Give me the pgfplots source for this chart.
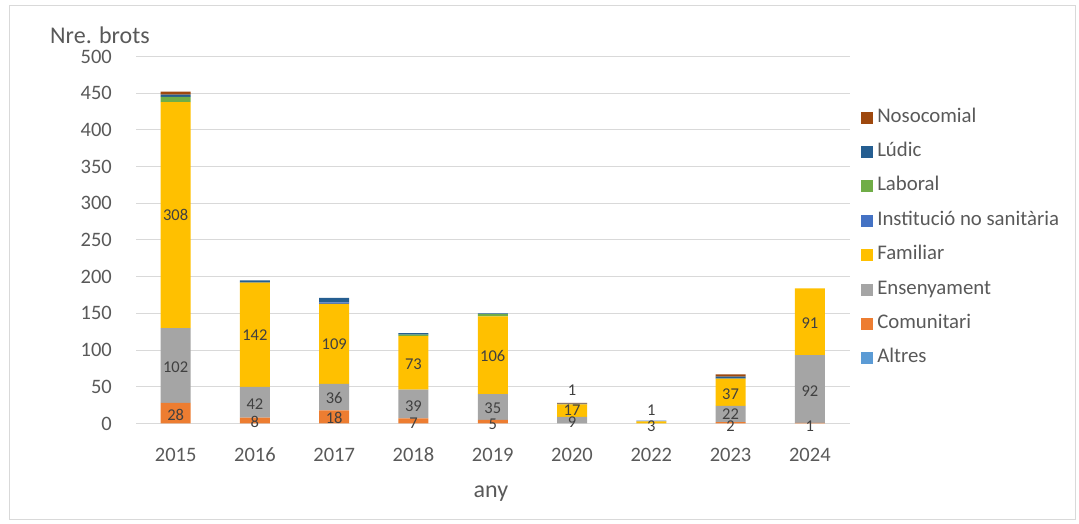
\documentclass[border=0pt]{standalone}
\usepackage{pgfplots}
\pgfplotsset{compat=1.18}
\usepackage{fontspec}
\setmainfont{Carlito}
\definecolor{cAltres}{HTML}{5B9BD5}
\definecolor{cComun}{HTML}{ED7D31}
\definecolor{cEns}{HTML}{A5A5A5}
\definecolor{cFam}{HTML}{FFC000}
\definecolor{cInst}{HTML}{4472C4}
\definecolor{cLab}{HTML}{70AD47}
\definecolor{cLud}{HTML}{255E91}
\definecolor{cNos}{HTML}{9E480E}
\definecolor{txt}{HTML}{595959}
\definecolor{lbl}{HTML}{404040}
\definecolor{gridc}{HTML}{D9D9D9}
\tikzset{dl/.style={font=\fontsize{16.5}{20}\selectfont, text=lbl, inner sep=0pt}}
\pgfplotsset{frame/.style={at={(136pt,100.5pt)}, anchor=south west,
  scale only axis, width=713.5pt, height=367pt,
  xmin=-0.5, xmax=8.5, ymin=0, ymax=500}}
\begin{document}
\begin{tikzpicture}[x=1pt,y=1pt]
\useasboundingbox (0,0) rectangle (1079,524);
\draw[gridc, line width=0.8pt] (9.5,4.5) rectangle (1075.5,518.5);
\begin{axis}[
  frame,
  ybar stacked, bar width=30pt,
  xtick={0,...,8},
  xticklabels={2015,2016,2017,2018,2019,2020,2022,2023,2024},
  ytick={0,50,...,500},
  axis line style={draw=none},
  major tick length=0pt,
  ymajorgrids, grid style={gridc, line width=1pt},
  tick label style={font=\fontsize{20.5}{24}\selectfont, text=txt},
  /pgf/number format/assume math mode=true,
  yticklabel style={inner sep=0pt, anchor=east, xshift=-24pt},
  xticklabel style={inner sep=0pt, anchor=north, text height=13pt, text depth=0pt, yshift=-25pt},
  xlabel={any}, ylabel={Nre. brots},
  label style={font=\fontsize{24}{28}\selectfont, text=txt},
  xlabel style={at={(axis description cs:0.4975,-0.192)}, anchor=center},
  ylabel style={at={(axis description cs:-0.0505,1.0586)}, anchor=center, rotate=-90},
  clip=false,
  reverse legend,
  legend cell align=left,
  legend image code/.code={\fill[#1,draw=none] (0pt,-6pt) rectangle (12pt,6pt);},
  legend style={at={(axis description cs:1.012,0.868)}, anchor=north west,
    draw=none, fill=none, font=\fontsize{20.8}{24}\selectfont, text=txt,
    row sep=13.4pt,
    nodes={inner sep=2pt, text height=13pt, text depth=4pt},
    /tikz/every odd column/.append style={column sep=2pt}},
]
\addplot[fill=cAltres, draw=none] coordinates {(0,0) (1,0) (2,0) (3,0) (4,0) (5,0) (6,0) (7,0) (8,0)};
\addlegendentry{Altres}
\addplot[fill=cComun, draw=none] coordinates {(0,28) (1,8) (2,18) (3,7) (4,5) (5,0) (6,0) (7,2) (8,1)};
\addlegendentry{Comunitari}
\addplot[fill=cEns, draw=none] coordinates {(0,102) (1,42) (2,36) (3,39) (4,35) (5,9) (6,0) (7,22) (8,92)};
\addlegendentry{Ensenyament}
\addplot[fill=cFam, draw=none] coordinates {(0,308) (1,142) (2,109) (3,73) (4,106) (5,17) (6,3) (7,37) (8,91)};
\addlegendentry{Familiar}
\addplot[fill=cInst, draw=none] coordinates {(0,0) (1,0) (2,2) (3,0) (4,0) (5,0) (6,1) (7,0) (8,0)};
\addlegendentry{Institució no sanitària}
\addplot[fill=cLab, draw=none] coordinates {(0,7) (1,0) (2,0) (3,2) (4,3) (5,0) (6,0) (7,0) (8,0)};
\addlegendentry{Laboral}
\addplot[fill=cLud, draw=none] coordinates {(0,3) (1,3) (2,6) (3,2) (4,1) (5,1) (6,0) (7,3) (8,0)};
\addlegendentry{Lúdic}
\addplot[fill=cNos, draw=none] coordinates {(0,4) (1,0) (2,0) (3,0) (4,0) (5,1) (6,0) (7,3) (8,0)};
\addlegendentry{Nosocomial}
\end{axis}
\begin{axis}[frame, hide axis, clip=false]
\node[dl] at (axis cs:0,11.5) {28};
\node[dl] at (axis cs:0,77) {102};
\node[dl] at (axis cs:0,284) {308};
\node[dl] at (axis cs:1,2.5) {8};
\node[dl] at (axis cs:1,27) {42};
\node[dl] at (axis cs:1,121) {142};
\node[dl] at (axis cs:2,7.5) {18};
\node[dl] at (axis cs:2,35) {36};
\node[dl] at (axis cs:2,108) {109};
\node[dl] at (axis cs:3,0.5) {7};
\node[dl] at (axis cs:3,24) {39};
\node[dl] at (axis cs:3,80.5) {73};
\node[dl] at (axis cs:4,-0.5) {5};
\node[dl] at (axis cs:4,21.5) {35};
\node[dl] at (axis cs:4,92) {106};
\node[dl] at (axis cs:5,1.5) {9};
\node[dl] at (axis cs:5,18.5) {17};
\node[dl] at (axis cs:5,45.5) {1};
\node[dl] at (axis cs:6,-3.5) {3};
\node[dl] at (axis cs:6,17.5) {1};
\node[dl] at (axis cs:7,-4) {2};
\node[dl] at (axis cs:7,13) {22};
\node[dl] at (axis cs:7,40) {37};
\node[dl] at (axis cs:8,-3) {1};
\node[dl] at (axis cs:8,44.5) {92};
\node[dl] at (axis cs:8,136.5) {91};
\end{axis}
\end{tikzpicture}
\end{document}
